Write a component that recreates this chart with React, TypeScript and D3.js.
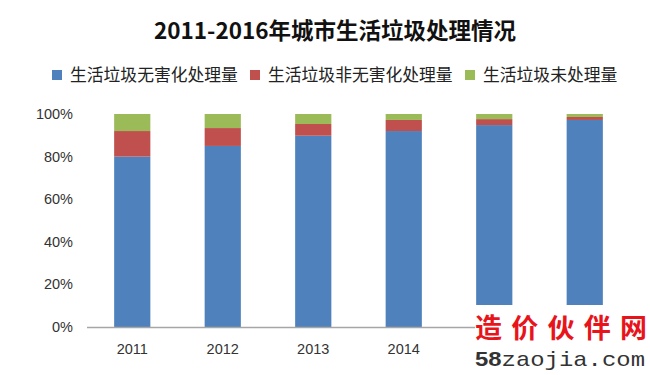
import React, { useEffect, useRef } from 'react';
import * as d3 from 'd3';

const years = ['2011', '2012', '2013', '2014', '2015', '2016'];
const harmless = [80, 85, 89.8, 92, 94.8, 97.2];
const nonHarmless = [12, 8.4, 5.5, 5.2, 2.8, 1.4];
const untreated = [8, 6.6, 4.7, 2.8, 2.4, 1.4];

const seriesNames = ['生活垃圾无害化处理量', '生活垃圾非无害化处理量', '生活垃圾未处理量'];
const seriesColors = ['#4F81BD', '#C0504D', '#9BBB59'];
const yTicks = [0, 0.2, 0.4, 0.6, 0.8, 1];

const W = 650;
const H = 375;
// white box the site watermark sits on (covers the last two axis labels)
const wmBox = { x: 475, y: 305 };

const App: React.FC = () => {
  const ref = useRef<SVGSVGElement>(null);

  useEffect(() => {
    if (!ref.current) return;
    const svg = d3.select(ref.current);
    svg.selectAll('*').remove();

    const font = "'Liberation Sans', Arial, sans-serif";
    const cjk = "'Noto Sans CJK SC', sans-serif";

    const rows = years.map((y, i) => ({
      year: y,
      a: harmless[i],
      b: nonHarmless[i],
      c: untreated[i],
    }));

    const x = d3
      .scaleBand<string>()
      .domain(years)
      .range([87, 630])
      .paddingInner(0.6)
      .paddingOuter(0.3);

    const y = d3.scaleLinear().domain([0, 1]).range([327, 114]);

    const stack = d3
      .stack<any>()
      .keys(['a', 'b', 'c'])
      .offset(d3.stackOffsetExpand);

    const layers = stack(rows);

    svg
      .append('rect')
      .attr('width', W)
      .attr('height', H)
      .attr('fill', '#fff');

    // title
    svg
      .append('text')
      .attr('x', 335)
      .attr('y', 39)
      .attr('text-anchor', 'middle')
      .attr('font-family', cjk)
      .attr('font-weight', 700)
      .attr('font-size', 22.5)
      .attr('fill', '#111')
      .text('2011-2016年城市生活垃圾处理情况');

    // legend
    const legendX = [52, 250, 465];
    const legend = svg.append('g');
    seriesNames.forEach((name, i) => {
      legend
        .append('rect')
        .attr('x', legendX[i])
        .attr('y', 70)
        .attr('width', 10)
        .attr('height', 10)
        .attr('fill', seriesColors[i]);
      legend
        .append('text')
        .attr('x', legendX[i] + 18)
        .attr('y', 81)
        .attr('font-family', cjk)
        .attr('font-size', 16.8)
        .attr('fill', '#222')
        .text(name);
    });

    // bars
    layers.forEach((layer, i) => {
      svg
        .append('g')
        .selectAll('rect')
        .data(layer)
        .enter()
        .append('rect')
        .attr('x', (d: any) => x(d.data.year) as number)
        .attr('width', x.bandwidth())
        .attr('y', (d) => y(d[1]))
        .attr('height', (d) => y(d[0]) - y(d[1]))
        .attr('fill', seriesColors[i]);
    });

    // axis line
    svg
      .append('line')
      .attr('x1', 87)
      .attr('x2', 630)
      .attr('y1', y(0) + 0.5)
      .attr('y2', y(0) + 0.5)
      .attr('stroke', '#a6a6a6')
      .attr('stroke-width', 1.5);

    // y labels
    svg
      .append('g')
      .selectAll('text')
      .data(yTicks)
      .enter()
      .append('text')
      .attr('x', 73)
      .attr('y', (d) => y(d) + 5)
      .attr('text-anchor', 'end')
      .attr('font-family', font)
      .attr('font-size', 14.5)
      .attr('fill', '#333')
      .text((d) => d3.format('.0%')(d));

    // x labels (2015/2016 are hidden behind the watermark in the original)
    svg
      .append('g')
      .selectAll('text')
      .data(years.filter((d) => (x(d) as number) + x.bandwidth() / 2 < wmBox.x))
      .enter()
      .append('text')
      .attr('x', (d) => (x(d) as number) + x.bandwidth() / 2)
      .attr('y', 354)
      .attr('text-anchor', 'middle')
      .attr('font-family', font)
      .attr('font-size', 14.5)
      .attr('fill', '#333')
      .text((d) => d);

    // watermark
    svg
      .append('rect')
      .attr('x', wmBox.x)
      .attr('y', wmBox.y)
      .attr('width', W - wmBox.x)
      .attr('height', H - wmBox.y)
      .attr('fill', '#fff');
    svg
      .append('text')
      .attr('x', 475)
      .attr('y', 338)
      .attr('textLength', 172)
      .attr('lengthAdjust', 'spacing')
      .attr('font-family', cjk)
      .attr('font-weight', 700)
      .attr('font-size', 27)
      .attr('fill', '#e8141b')
      .text('造价伙伴网');
    const wm = svg
      .append('text')
      .attr('x', 475)
      .attr('y', 366)
      .attr('font-size', 21)
      .attr('textLength', 170)
      .attr('lengthAdjust', 'spacingAndGlyphs');
    wm.append('tspan')
      .attr('font-family', font)
      .attr('font-weight', 700)
      .attr('fill', '#333')
      .text('58');
    wm.append('tspan')
      .attr('font-family', "'Liberation Mono', monospace")
      .attr('fill', '#333')
      .text('zaojia.com');
  }, []);

  return (
    <svg
      ref={ref}
      width={W}
      height={H}
      style={{ position: 'absolute', left: 0, top: 0 }}
    ></svg>
  );
};

export default App;
